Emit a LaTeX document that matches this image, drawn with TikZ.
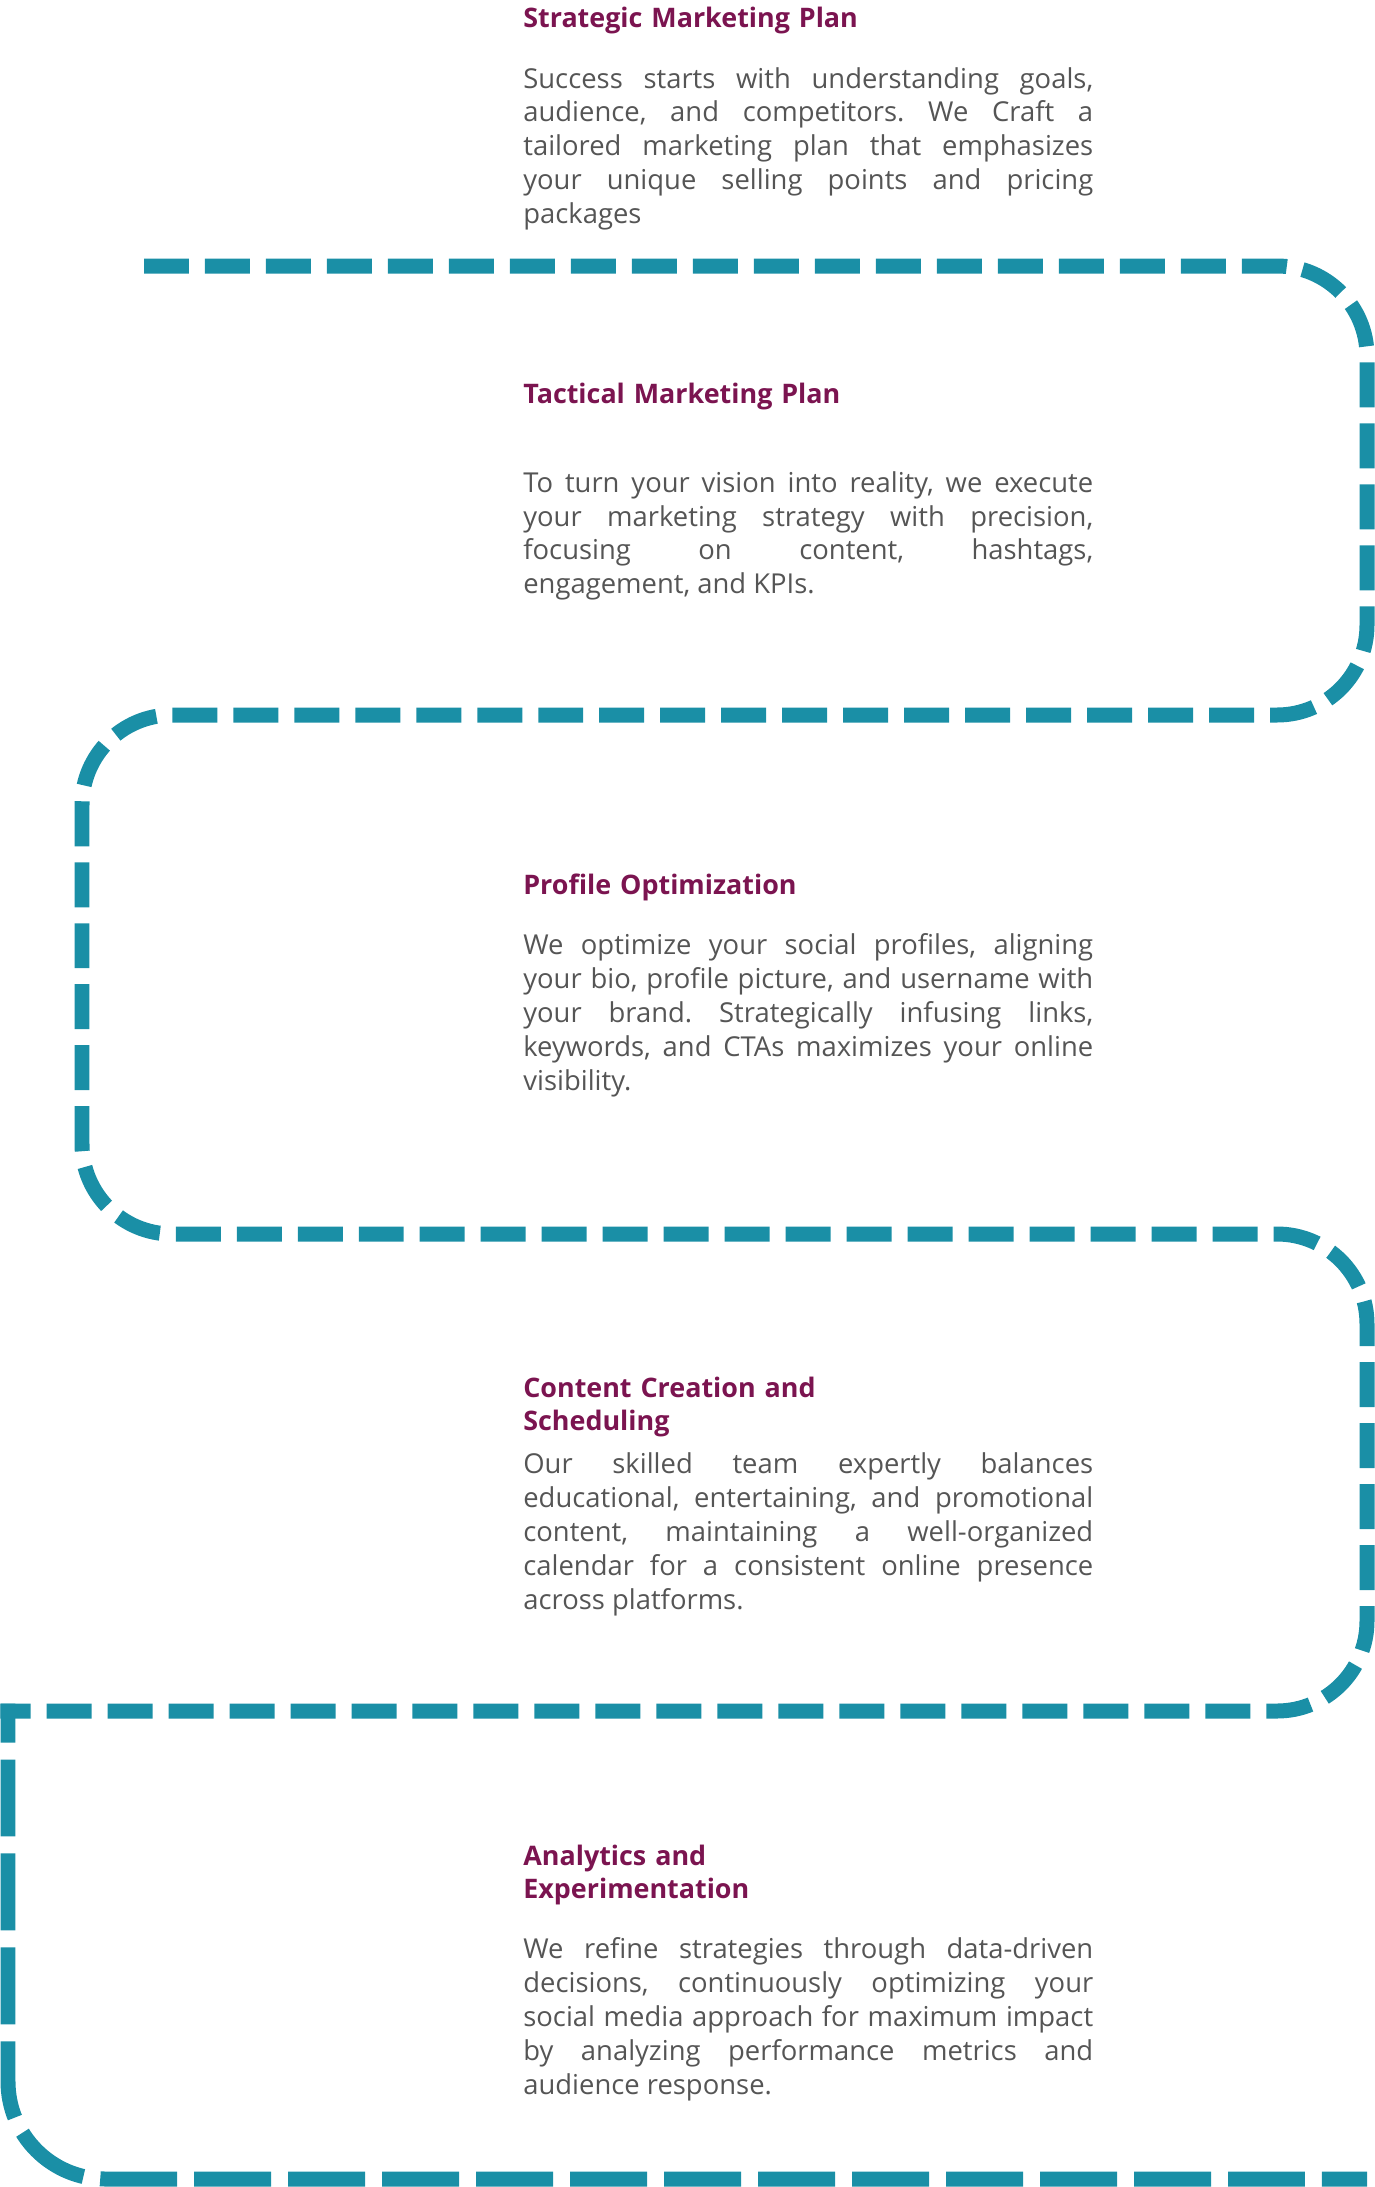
\documentclass[tikz,border=0pt]{standalone}
\usepackage{fontspec}
\setmainfont{Open Sans}
\usepackage{xcolor}
\usepackage{tikz}

\definecolor{roadteal}{HTML}{1A8FA6}
\definecolor{ttlred}{HTML}{7B1450}
\definecolor{txtgrey}{HTML}{555555}

\frenchspacing

\begin{document}
\begin{tikzpicture}[
    x=0.02cm, y=-0.02cm,
    ttl/.style={anchor=base west, inner sep=0, text width=9cm, align=left, font=\fontsize{15.3}{19.1}\selectfont\bfseries, text=ttlred},
    txt/.style={anchor=base west, inner sep=0, text width=11.4cm, align=justify, font=\fontsize{15.6}{19.35}\selectfont, text=txtgrey},
    road/.style={draw=roadteal, line width=0.3cm, dash pattern=on 0.9cm off 0.32cm, rounded corners=1.8cm},
]
\useasboundingbox (0,0) rectangle (1375,2187);

% Winding dashed road
\draw[road] (144,266) -- (1367,266) -- (1367,715) -- (82,715) -- (82,1234)
    -- (1367,1234) -- (1367,1711) -- (0.5,1711);
\draw[road, dash pattern=on 1.54cm off 0.34cm, dash phase=0.76cm, rounded corners=1.95cm]
    (8,1703.5) -- (8,2179) -- (1367,2179);

% Step titles
\node[ttl] (strat) at (523,28) {Strategic Marketing Plan};
\node[ttl] (tact) at (523,403) {Tactical Marketing Plan};
\node[ttl] (prof) at (523,894) {Profile Optimization};
\node[ttl] (cont) at (523,1397) {Content Creation and\\Scheduling};
\node[ttl] (anal) at (523,1865) {Analytics and\\Experimentation};

% Step texts
\node[txt] (stratTxt) at (523,88) {Success starts with understanding goals,\linebreak
    audience, and competitors. We Craft a\linebreak
    tailored marketing plan that emphasizes\linebreak
    your unique selling points and pricing\linebreak
    packages};
\node[txt] (tactTxt) at (523,492) {To turn your vision into reality, we execute\linebreak
    your marketing strategy with precision,\linebreak
    focusing on content, hashtags,\linebreak
    engagement, and KPIs.};
\node[txt] (profTxt) at (523,954) {We optimize your social profiles, aligning\linebreak
    your bio, profile picture, and username with\linebreak
    your brand. Strategically infusing links,\linebreak
    keywords, and CTAs maximizes your online\linebreak
    visibility.};
\node[txt] (contTxt) at (523,1473) {Our skilled team expertly balances\linebreak
    educational, entertaining, and promotional\linebreak
    content, maintaining a well-organized\linebreak
    calendar for a consistent online presence\linebreak
    across platforms.};
\node[txt] (analTxt) at (523,1958) {We refine strategies through data-driven\linebreak
    decisions, continuously optimizing your\linebreak
    social media approach for maximum impact\linebreak
    by analyzing performance metrics and\linebreak
    audience response.};

\end{tikzpicture}
\end{document}
